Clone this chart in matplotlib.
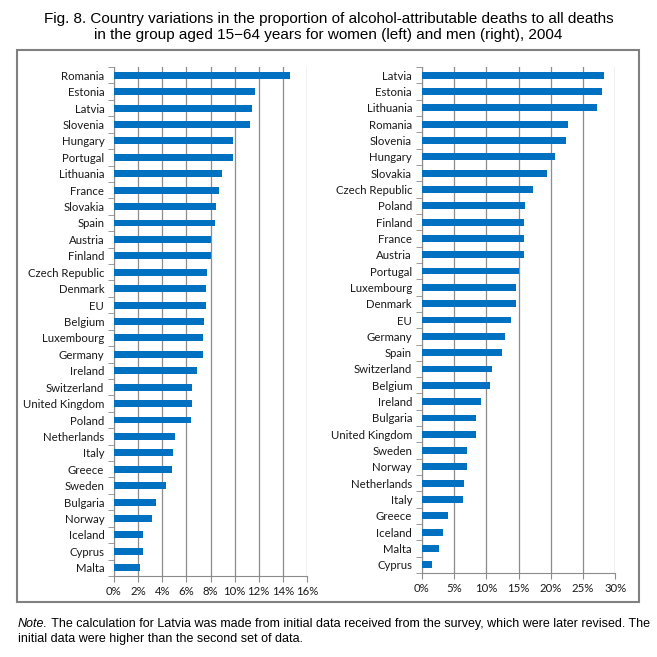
import numpy as np
import matplotlib.pyplot as plt
from matplotlib.patches import Rectangle
from matplotlib.ticker import FuncFormatter

# Mujeres (izquierda)
women_countries = ['Romania', 'Estonia', 'Latvia', 'Slovenia', 'Hungary', 'Portugal',
                   'Lithuania', 'France', 'Slovakia', 'Spain', 'Austria', 'Finland',
                   'Czech Republic', 'Denmark', 'EU', 'Belgium', 'Luxembourg', 'Germany',
                   'Ireland', 'Switzerland', 'United Kingdom', 'Poland', 'Netherlands',
                   'Italy', 'Greece', 'Sweden', 'Bulgaria', 'Norway', 'Iceland',
                   'Cyprus', 'Malta']
women_values = [14.62, 11.70, 11.48, 11.26, 9.88, 9.88, 8.94, 8.69, 8.47, 8.41, 8.06,
                8.03, 7.70, 7.61, 7.61, 7.45, 7.39, 7.39, 6.84, 6.46, 6.46, 6.37, 5.05,
                4.88, 4.83, 4.30, 3.48, 3.14, 2.40, 2.37, 2.15]

# Hombres (derecha)
men_countries = ['Latvia', 'Estonia', 'Lithuania', 'Romania', 'Slovenia', 'Hungary',
                 'Slovakia', 'Czech Republic', 'Poland', 'Finland', 'France', 'Austria',
                 'Portugal', 'Luxembourg', 'Denmark', 'EU', 'Germany', 'Spain',
                 'Switzerland', 'Belgium', 'Ireland', 'Bulgaria', 'United Kingdom',
                 'Sweden', 'Norway', 'Netherlands', 'Italy', 'Greece', 'Iceland',
                 'Malta', 'Cyprus']
men_values = [28.24, 27.93, 27.16, 22.72, 22.35, 20.70, 19.41, 17.29, 15.95, 15.90,
              15.90, 15.80, 15.07, 14.66, 14.66, 13.89, 12.90, 12.44, 10.89, 10.58,
              9.19, 8.41, 8.41, 7.07, 7.07, 6.56, 6.40, 4.08, 3.30, 2.68, 1.60]

women_ticks = [0, 2, 4, 6, 8, 10, 12, 14, 16]
men_ticks = [0, 5, 10, 15, 20, 25, 30]

title = ('Fig. 8. Country variations in the proportion of alcohol-attributable deaths to all deaths\n'
         'in the group aged 15\u221264 years for women (left) and men (right), 2004')
note_rest = (' The calculation for Latvia was made from initial data received from the survey, '
             'which were later revised. The')
note_line2 = 'initial data were higher than the second set of data.'

bar_color = '#0070C0'
grid_color = '#8c8c8c'
label_font = ['Lato', 'DejaVu Sans']
text_font = ['Liberation Sans', 'DejaVu Sans']

fig = plt.figure(figsize=(6.57, 6.57), dpi=100)

ax_w = fig.add_axes([0.1735, 0.1233, 0.2938, 0.7747])
ax_m = fig.add_axes([0.6419, 0.1279, 0.2947, 0.7700])


def draw_panel(ax, countries, values, ticks):
    y = np.arange(len(countries))
    ax.barh(y, values, height=0.42, color=bar_color, zorder=3)
    ax.set_ylim(len(countries) - 0.5, -0.5)
    ax.set_xlim(ticks[0], ticks[-1])
    ax.set_xticks(ticks)
    ax.xaxis.set_major_formatter(FuncFormatter(lambda v, p: f'{v:.0f}%'))
    ax.set_yticks(y)
    ax.set_yticklabels(countries)
    ax.set_yticks(np.arange(len(countries) + 1) - 0.5, minor=True)
    ax.tick_params(axis='y', which='major', length=0, pad=7)
    ax.tick_params(axis='y', which='minor', length=4, color=grid_color)
    ax.tick_params(axis='x', length=4, color=grid_color, pad=3)
    for lab in ax.get_yticklabels() + ax.get_xticklabels():
        lab.set_family(label_font)
        lab.set_fontsize(8.2)
        lab.set_color('#1a1a1a')
    ax.grid(axis='x', color=grid_color, linewidth=0.9, zorder=0)
    for side in ['top', 'right']:
        ax.spines[side].set_visible(False)
    ax.spines['left'].set_color(grid_color)
    ax.spines['bottom'].set_color(grid_color)


draw_panel(ax_w, women_countries, women_values, women_ticks)
draw_panel(ax_m, men_countries, men_values, men_ticks)

# Marco alrededor de las dos gráficas
fig.patches.append(Rectangle((17 / 657, 1 - 602 / 657), 622 / 657, 552 / 657,
                             transform=fig.transFigure, fill=False,
                             edgecolor='#808080', linewidth=1.5))

fig.text(0.5, 1 - 27 / 657, title, ha='center', va='center', fontsize=11,
         family=text_font, linespacing=1.25)

t = fig.text(18 / 657, 1 - 624 / 657, 'Note.', ha='left', va='center', fontsize=9,
             family=text_font, style='italic')
fig.canvas.draw()
bb = t.get_window_extent()
fig.text(bb.x1 / 657, 1 - 624 / 657, note_rest, ha='left', va='center', fontsize=9,
         family=text_font)
fig.text(18 / 657, 1 - 639 / 657, note_line2, ha='left', va='center', fontsize=9,
         family=text_font)

plt.savefig('out.png', dpi=100)
